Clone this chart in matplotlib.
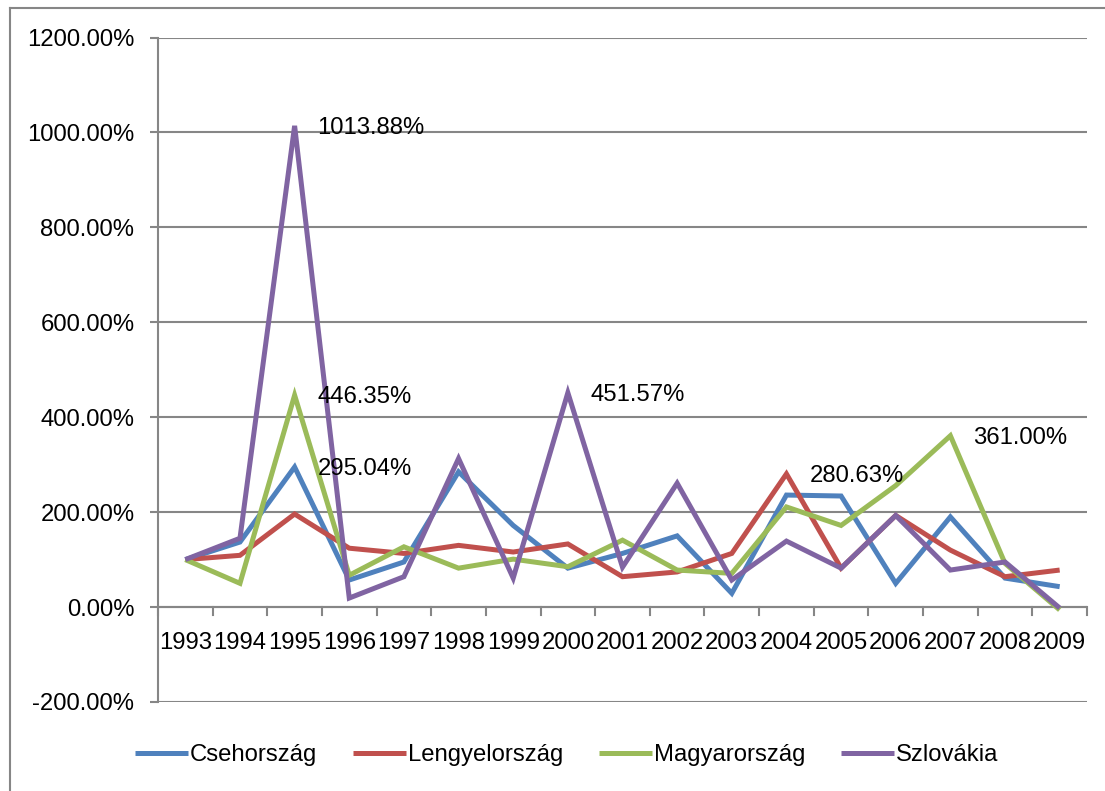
import matplotlib
matplotlib.use("Agg")
import matplotlib.pyplot as plt
from matplotlib.lines import Line2D
from matplotlib.ticker import FuncFormatter, FixedLocator
from matplotlib.transforms import ScaledTranslation

years = [str(y) for y in range(1993, 2010)]
cseh = [100, 137, 295.04, 57, 95, 285, 172, 82, 113, 150, 29, 236, 234, 50, 190, 61, 43]
lengyel = [100, 109, 196, 124, 113, 130, 116, 133, 64, 74, 113, 280.63, 82, 193, 120, 64, 78]
magyar = [100, 50, 446.35, 67, 127, 82, 101, 85, 141, 78, 71, 211, 172, 256, 361.00, 92, -6]
szlovak = [100, 145, 1013.88, 19, 64, 313, 61, 451.57, 84, 261, 57, 139, 82, 193, 78, 95, -2]

series_names = ["Csehország", "Lengyelország", "Magyarország", "Szlovákia"]
series_vals = [cseh, lengyel, magyar, szlovak]
colors = ["#4F81BD", "#C0504D", "#9BBB59", "#8064A2"]

# labelled points: (series index, category index)
labelled = [(3, 2), (2, 2), (0, 2), (3, 7), (1, 11), (2, 14)]

plt.rcParams['font.family'] = ['Liberation Sans', 'DejaVu Sans']
FS = 17.2
W, H = 1105, 791
fig = plt.figure(figsize=(W / 100, H / 100), dpi=100)

L, R, T, B = 158, 1087, 37.5, 702
ax = fig.add_axes([L / W, 1 - B / H, (R - L) / W, (B - T) / H])

x = list(range(len(years)))
for name, vals, c in zip(series_names, series_vals, colors):
    ax.plot(x, vals, color=c, lw=3.6, label=name, solid_joinstyle='miter',
            solid_capstyle='butt', zorder=3)

for si, ci in labelled:
    v = series_vals[si][ci]
    ax.annotate(f"{v:.2f}%", (ci, v), xytext=(23, -2), textcoords='offset pixels',
                ha='left', va='center', fontsize=FS, color='black', zorder=5)

ax.set_xlim(-0.5, len(years) - 0.5)
ax.set_ylim(-200, 1200)
ax.yaxis.set_major_locator(FixedLocator(range(-200, 1201, 200)))
ax.yaxis.set_major_formatter(FuncFormatter(lambda v, p: f"{v:.2f}%"))
ax.grid(axis='y', color='#868686', lw=1.5, zorder=1)
ax.set_axisbelow(True)

for s in ['top', 'right', 'bottom']:
    ax.spines[s].set_visible(False)
ax.spines['left'].set_color('#868686')
ax.spines['left'].set_linewidth(1.5)

# x axis at zero
ax.axhline(0, color='#868686', lw=1.5, zorder=2)
ax.set_xticks(x)
ax.set_xticklabels(years)
ax.tick_params(axis='x', which='major', length=0, pad=0, labelsize=FS)
ax.tick_params(axis='y', which='major', length=6, width=1.5, color='#868686',
               pad=11, labelsize=FS)
# place x tick labels below the zero line
for lbl in ax.get_xticklabels():
    lbl.set_transform(ax.transData +
                      ScaledTranslation(0, -25 / 100, fig.dpi_scale_trans))
    lbl.set_va('top')
    lbl.set_y(0)
# category boundary ticks below zero line
for b in [i - 0.5 for i in range(len(years) + 1)]:
    ax.plot([b, b], [0, -17], color='#868686', lw=1.5, zorder=2, clip_on=False)

leg = ax.legend(loc='center', bbox_to_anchor=((567 - L) / (R - L), (B - 755) / (B - T)),
                ncol=4, frameon=False, fontsize=FS, handlelength=2.2,
                handletextpad=0.1, columnspacing=1.5)

# outer chart frame
fig.add_artist(Line2D([10 / W, 1], [1 - 8 / H, 1 - 8 / H], color='#868686', lw=1.5,
                      transform=fig.transFigure))
fig.add_artist(Line2D([10 / W, 10 / W], [0, 1 - 8 / H], color='#868686', lw=1.5,
                      transform=fig.transFigure))

fig.savefig("out.png", dpi=100)
